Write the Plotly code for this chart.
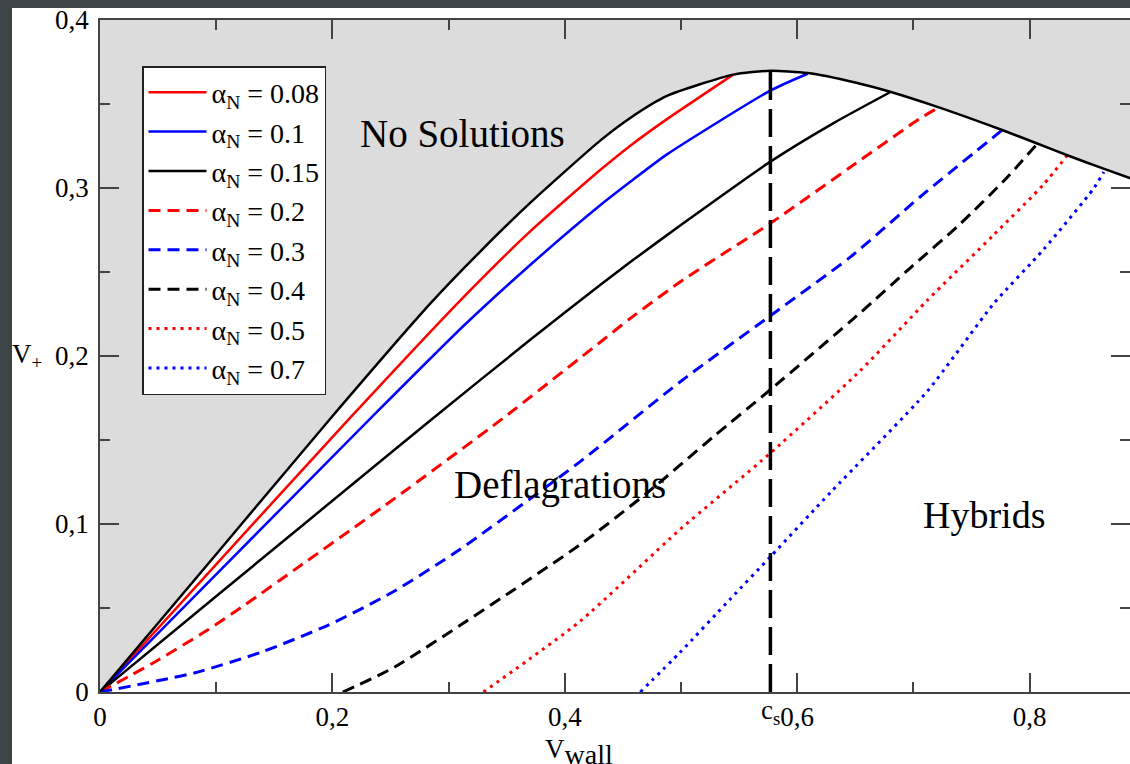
import plotly.graph_objects as go

# ---------------- data ----------------
cs = 0.577  # sound speed c_s

env_x = [0.0, 0.100, 0.198, 0.284, 0.327, 0.370, 0.431, 0.457, 0.488, 0.545, 0.577,
         0.609, 0.650, 0.680, 0.722, 0.7765, 0.8066, 0.8325, 0.8637, 0.887]
env_y = [0.0, 0.082, 0.1625, 0.231, 0.262, 0.291, 0.3285, 0.342, 0.3548, 0.3675, 0.3698,
         0.3684, 0.3628, 0.3573, 0.3480, 0.3345, 0.3265, 0.3195, 0.3115, 0.3058]

labels = ["0.08", "0.1", "0.15", "0.2", "0.3", "0.4", "0.5", "0.7"]

a008_x = [0.0, 0.100, 0.215, 0.310, 0.370, 0.431, 0.457, 0.488, 0.545]
a008_y = [0.0, 0.076, 0.163, 0.233, 0.274, 0.311, 0.3255, 0.341, 0.3675]

a01_x = [0.0, 0.100, 0.233, 0.313, 0.370, 0.431, 0.457, 0.488, 0.577, 0.609]
a01_y = [0.0, 0.070, 0.163, 0.218, 0.254, 0.290, 0.304, 0.320, 0.358, 0.368]

a015_x = [0.0, 0.100, 0.254, 0.284, 0.370, 0.431, 0.457, 0.502, 0.577, 0.631, 0.680]
a015_y = [0.0, 0.057, 0.1445, 0.1615, 0.2095, 0.2425, 0.2562, 0.279, 0.3157, 0.3385, 0.357]

a02_x = [0.0, 0.045, 0.093, 0.125, 0.168, 0.254, 0.347, 0.431, 0.457, 0.502, 0.577, 0.646, 0.706, 0.722]
a02_y = [0.0, 0.017, 0.037, 0.052, 0.073, 0.1154, 0.163, 0.2085, 0.2227, 0.2454, 0.279, 0.3125, 0.3415, 0.348]

a03_x = [0.0, 0.082, 0.140, 0.197, 0.252, 0.310, 0.413, 0.500, 0.577, 0.646, 0.706, 0.7765]
a03_y = [0.0, 0.0115, 0.0240, 0.0400, 0.0595, 0.0850, 0.137, 0.185, 0.224, 0.259, 0.2948, 0.3345]

a04_x = [0.209, 0.254, 0.413, 0.471, 0.528, 0.577, 0.654, 0.6975, 0.740, 0.778, 0.8066]
a04_y = [0.0, 0.015, 0.0876, 0.1186, 0.152, 0.180, 0.2255, 0.2525, 0.2784, 0.3043, 0.3262]

a05_x = [0.330, 0.413, 0.499, 0.577, 0.654, 0.712, 0.769, 0.812, 0.8325]
a05_y = [0.0, 0.042, 0.0966, 0.1422, 0.191, 0.2331, 0.272, 0.302, 0.3195]

a07_x = [0.465, 0.499, 0.542, 0.577, 0.629, 0.712, 0.769, 0.812, 0.855, 0.864]
a07_y = [0.0, 0.0234, 0.055, 0.0805, 0.119, 0.179, 0.231, 0.2633, 0.2995, 0.3095]

x_ticks = [0.0, 0.2, 0.4, 0.6, 0.8]
x_ticktext = ["0", "0,2", "0,4", "0,6", "0,8"]
x_minor = [0.1, 0.3, 0.5, 0.7]
y_ticks = [0.0, 0.1, 0.2, 0.3, 0.4]
y_ticktext = ["0", "0,1", "0,2", "0,3", "0,4"]
y_minor = [0.05, 0.15, 0.25, 0.35]
x_range = [0.0, 0.8865]
y_range = [0.0, 0.4]

# ---------------- figure ----------------
FONT = "Liberation Serif"
SMOOTH = 0.6
fig = go.Figure()

# grey "no solutions" region above the envelope
fig.add_trace(go.Scatter(
    x=env_x + [env_x[-1], env_x[0]], y=env_y + [y_range[1], y_range[1]],
    fill="toself", fillcolor="#dcdcdc", line=dict(width=0),
    mode="lines", showlegend=False, hoverinfo="skip"))

series = [
    (a008_x, a008_y, "#ff0000", "solid", 2.5),
    (a01_x, a01_y, "#0000ff", "solid", 2.5),
    (a015_x, a015_y, "#000000", "solid", 2.5),
    (a02_x, a02_y, "#ff0000", "12px,7px", 3),
    (a03_x, a03_y, "#0000ff", "12px,7px", 3),
    (a04_x, a04_y, "#000000", "12px,7px", 3),
    (a05_x, a05_y, "#ff0000", "3px,5px", 3),
    (a07_x, a07_y, "#0000ff", "3px,5px", 3),
]
for i, (xs, ys, col, dash, w) in enumerate(series):
    fig.add_trace(go.Scatter(
        x=xs, y=ys, mode="lines", name="α<sub>N</sub> = " + labels[i],
        legendgroup="g%d" % i,
        line=dict(color=col, dash=dash, width=w, shape="spline", smoothing=SMOOTH)))

# envelope
fig.add_trace(go.Scatter(x=env_x, y=env_y, mode="lines", showlegend=False, hoverinfo="skip",
                         line=dict(color="black", width=2.5, shape="spline", smoothing=SMOOTH)))
# c_s line
fig.add_trace(go.Scatter(x=[cs, cs], y=[0, max(env_y)], mode="lines", showlegend=False,
                         line=dict(color="black", width=3.5, dash="28px,9px")))

tickfont = dict(family=FONT, size=27, color="black")
axis_common = dict(ticks="inside", ticklen=19, tickwidth=1.5, tickcolor="#444", showline=True,
                   linecolor="#444", linewidth=1.5, mirror="ticks", showgrid=False,
                   zeroline=False, tickfont=tickfont)
fig.update_xaxes(range=x_range, tickvals=x_ticks, ticktext=x_ticktext,
                 minor=dict(tickvals=x_minor, ticks="inside", ticklen=10, tickwidth=1.5,
                            tickcolor="#444", showgrid=False), **axis_common)
fig.update_yaxes(range=y_range, tickvals=y_ticks, ticktext=y_ticktext, ticklabelstandoff=4,
                 minor=dict(tickvals=y_minor, ticks="inside", ticklen=10, tickwidth=1.5,
                            tickcolor="#444", showgrid=False), **axis_common)

W, H = 1130, 764
ML, MR, MT, MB = 100, 0, 20, 72
pw, ph = W - ML - MR, H - MT - MB

def px2paper_x(px):
    return (px - ML) / pw

def py2paper_y(py):
    return (H - MB - py) / ph

annots = [
    dict(text="No Solutions", x=0.3118, y=0.3327, size=39),
    dict(text="Deflagrations", x=0.396, y=0.1233, size=39),
    dict(text="Hybrids", x=0.761, y=0.1055, size=38),
]
for a in annots:
    fig.add_annotation(text=a["text"], x=a["x"], y=a["y"], xref="x", yref="y",
                       showarrow=False, xanchor="center", yanchor="middle",
                       font=dict(family=FONT, size=a["size"], color="black"))

fig.add_annotation(text="c<sub>s</sub>", x=cs, xref="x", y=py2paper_y(712), yref="paper",
                   showarrow=False, xanchor="center", yanchor="middle",
                   font=dict(family=FONT, size=27, color="black"))
fig.add_annotation(text="V<sub><span style='font-size:28px'>wall</span></sub>",
                   x=px2paper_x(543), xref="paper", y=py2paper_y(752),
                   yref="paper", showarrow=False, xanchor="left", yanchor="middle",
                   font=dict(family=FONT, size=27, color="black"))
fig.add_annotation(text="V<sub>+</sub>", x=px2paper_x(10), xref="paper", y=py2paper_y(356),
                   yref="paper", showarrow=False, xanchor="left", yanchor="middle",
                   font=dict(family=FONT, size=27, color="black"))

# dark frame on the left and top edges of the picture
fig.add_shape(type="rect", xref="paper", yref="paper", x0=px2paper_x(0), x1=px2paper_x(12),
              y0=py2paper_y(H), y1=py2paper_y(0), fillcolor="#3d4447", line=dict(width=0),
              layer="above")
fig.add_shape(type="rect", xref="paper", yref="paper", x0=px2paper_x(0), x1=px2paper_x(W),
              y0=py2paper_y(8), y1=py2paper_y(0), fillcolor="#3d4447", line=dict(width=0),
              layer="above")

fig.update_layout(
    width=W, height=H, template="none",
    margin=dict(l=ML, r=MR, t=MT, b=MB, autoexpand=False),
    paper_bgcolor="white", plot_bgcolor="white",
    showlegend=True,
    legend=dict(x=px2paper_x(142), y=py2paper_y(66), xanchor="left", yanchor="top",
                bgcolor="white", bordercolor="#222", borderwidth=1.5,
                font=dict(family=FONT, size=28, color="black"),
                itemwidth=58, tracegroupgap=3, traceorder="normal"),
)

fig.write_html("out.html", config={"displayModeBar": False},
               post_script="document.body.style.margin='0';document.body.style.overflow='hidden';")
